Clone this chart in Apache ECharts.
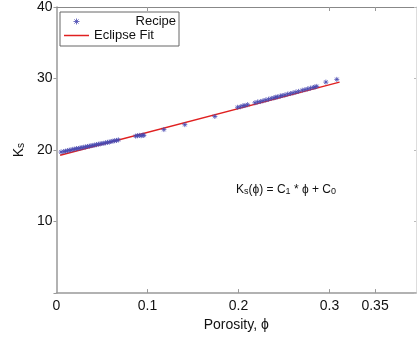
<!DOCTYPE html>
<html>
<head>
<meta charset="utf-8">
<script src="https://cdn.jsdelivr.net/npm/echarts@6/dist/echarts.min.js"></script>
<style>
html,body{margin:0;padding:0;background:#fff;}
#c{width:417px;height:337px;}
</style>
</head>
<body>
<div id="c"></div>
<script>
// Recipe data: porosity (phi) and Ks
var recipePhi = [
  0.005, 0.008, 0.010, 0.012, 0.014, 0.016, 0.018, 0.020, 0.022, 0.024,
  0.026, 0.028, 0.030, 0.032, 0.034, 0.036, 0.038, 0.040, 0.042, 0.044,
  0.046, 0.048, 0.050, 0.052, 0.054, 0.056, 0.058, 0.060, 0.062, 0.064,
  0.066, 0.068,
  0.087, 0.089, 0.091, 0.093, 0.095, 0.096,
  0.118, 0.141, 0.174,
  0.199, 0.202, 0.205, 0.207, 0.210, 0.218, 0.221, 0.224, 0.227, 0.230,
  0.233, 0.236, 0.239, 0.241, 0.243, 0.246, 0.248, 0.251, 0.254, 0.257,
  0.260, 0.263, 0.266, 0.270, 0.273, 0.276, 0.279, 0.282, 0.284, 0.286,
  0.296, 0.308
];
var recipeKs = [
  19.72, 19.80, 19.85, 19.90, 19.98, 20.00, 20.10, 20.12, 20.20, 20.22,
  20.30, 20.33, 20.40, 20.42, 20.50, 20.55, 20.60, 20.65, 20.70, 20.75,
  20.82, 20.85, 20.92, 20.95, 21.00, 21.08, 21.10, 21.20, 21.25, 21.30,
  21.35, 21.42,
  21.95, 22.00, 22.05, 22.00, 22.10, 22.05,
  22.86, 23.55, 24.70,
  25.98, 26.05, 26.20, 26.22, 26.35, 26.60, 26.72, 26.78, 26.90, 27.00,
  27.10, 27.22, 27.30, 27.40, 27.43, 27.55, 27.62, 27.70, 27.82, 27.90,
  28.00, 28.10, 28.20, 28.35, 28.45, 28.55, 28.65, 28.75, 28.82, 28.90,
  29.50, 29.88
];
// Eclipse fit line end points
var fitPhi = [0.004, 0.311];
var fitKs = [19.28, 29.50];
// Tick values
var xTickValues = [0, 0.1, 0.2, 0.3, 0.35];
var yTickValues = [10, 20, 30, 40];

var recipeData = recipePhi.map(function (p, i) { return [p, recipeKs[i]]; });
var fitData = fitPhi.map(function (p, i) { return [p, fitKs[i]]; });

var FONT = 'Liberation Sans, Arial, sans-serif';
var star = 'path://M0,-5L0,5M-5,0L5,0M-3.5,-3.5L3.5,3.5M-3.5,3.5L3.5,-3.5';

var chart = echarts.init(document.getElementById('c'), null, {renderer: 'canvas'});
chart.setOption({
  animation: false,
  backgroundColor: '#fff',
  grid: {left: 52, right: 1, top: 6, bottom: 40, containLabel: false},
  legend: {
    left: 60, top: 12, orient: 'vertical',
    padding: [3, 3, 4, 4],
    itemGap: 1, itemWidth: 25, itemHeight: 6,
    symbolKeepAspect: true,
    borderColor: '#666', borderWidth: 1, backgroundColor: '#fff',
    textStyle: {fontFamily: FONT, fontSize: 13, color: '#111',
      rich: {r: {fontFamily: FONT, fontSize: 13, color: '#111', width: 82, align: 'right', lineHeight: 15},
             l: {fontFamily: FONT, fontSize: 13, color: '#111', width: 82, align: 'left', lineHeight: 15}}},
    formatter: function (n) { return n === 'Recipe' ? '{r|' + n + '}' : '{l|' + n + '}'; },
    data: [
      {name: 'Recipe', icon: star, itemStyle: {color: 'rgba(0,0,0,0)', borderColor: '#4848b0', borderWidth: 1}},
      {name: 'Eclipse Fit', icon: 'path://M0,0L25,0L25,1.5L0,1.5Z', itemStyle: {color: '#e02020', borderWidth: 0}}
    ]
  },
  xAxis: [{
    type: 'value', min: 0, max: 0.395, position: 'bottom',
    name: 'Porosity, \u03d5', nameLocation: 'middle', nameGap: 23,
    nameTextStyle: {fontFamily: FONT, fontSize: 14, color: '#111'},
    axisLine: {show: true, lineStyle: {color: '#999', width: 1.5}},
    axisTick: {show: true, inside: true, length: 4, customValues: [0.1, 0.2, 0.3, 0.35], lineStyle: {color: '#999'}},
    axisLabel: {show: true, customValues: xTickValues, fontFamily: FONT, fontSize: 14, color: '#111', margin: 6,
      formatter: function (v) { return String(v); }},
    splitLine: {show: false}
  }, {
    type: 'value', min: 0, max: 0.395, position: 'top',
    axisLine: {show: true, onZero: false, lineStyle: {color: '#888', width: 1}},
    axisTick: {show: true, inside: true, length: 4, customValues: [0.1, 0.3, 0.35], lineStyle: {color: '#999'}},
    axisLabel: {show: false},
    splitLine: {show: false}
  }],
  yAxis: [{
    type: 'value', min: 0, max: 40, interval: 10, position: 'left',
    name: '{k|K}{s|s}', nameLocation: 'middle', nameGap: 30, nameRotate: 90,
    nameTextStyle: {rich: {
      k: {fontFamily: FONT, fontSize: 14, color: '#111', lineHeight: 18, verticalAlign: 'bottom'},
      s: {fontFamily: FONT, fontSize: 10, color: '#111', lineHeight: 18, verticalAlign: 'bottom', padding: [8, 0, 0, 0]}
    }},
    axisLine: {show: true, onZero: false, lineStyle: {color: '#999', width: 1.5}},
    axisTick: {show: true, inside: false, length: 3, lineStyle: {color: '#999'}},
    axisLabel: {fontFamily: FONT, fontSize: 14, color: '#111', margin: 4,
      formatter: function (v) { return yTickValues.indexOf(v) >= 0 ? String(v) : ''; }},
    splitLine: {show: false}
  }, {
    type: 'value', min: 0, max: 40, interval: 10, position: 'right',
    axisLine: {show: true, onZero: false, lineStyle: {color: '#ddd', width: 1}},
    axisTick: {show: true, inside: true, length: 2, lineStyle: {color: '#bbb'}},
    axisLabel: {show: false},
    splitLine: {show: false}
  }],
  graphic: [{
    type: 'text', left: 236, top: 181,
    style: {
      text: '{a|K}{b|s}{a|(\u03d5) = C}{b|1}{a| * \u03d5 + C}{b|0}',
      rich: {
        a: {fontFamily: FONT, fontSize: 12, fill: '#111', lineHeight: 18, verticalAlign: 'bottom'},
        b: {fontFamily: FONT, fontSize: 9, fill: '#111', lineHeight: 18, verticalAlign: 'bottom', padding: [6, 0, 0, 0]}
      }
    }
  }],
  series: [{
    name: 'Recipe', type: 'scatter', xAxisIndex: 0, yAxisIndex: 0,
    data: recipeData, symbol: star, symbolSize: 5,
    itemStyle: {color: 'rgba(0,0,0,0)', borderColor: '#4848b0', borderWidth: 1, opacity: 0.8},
    z: 3
  }, {
    name: 'Eclipse Fit', type: 'line', xAxisIndex: 0, yAxisIndex: 0,
    data: fitData, symbol: 'none', showSymbol: false,
    lineStyle: {color: '#e02020', width: 1.5},
    itemStyle: {color: '#e02020'},
    z: 2
  }]
});
</script>
</body>
</html>
